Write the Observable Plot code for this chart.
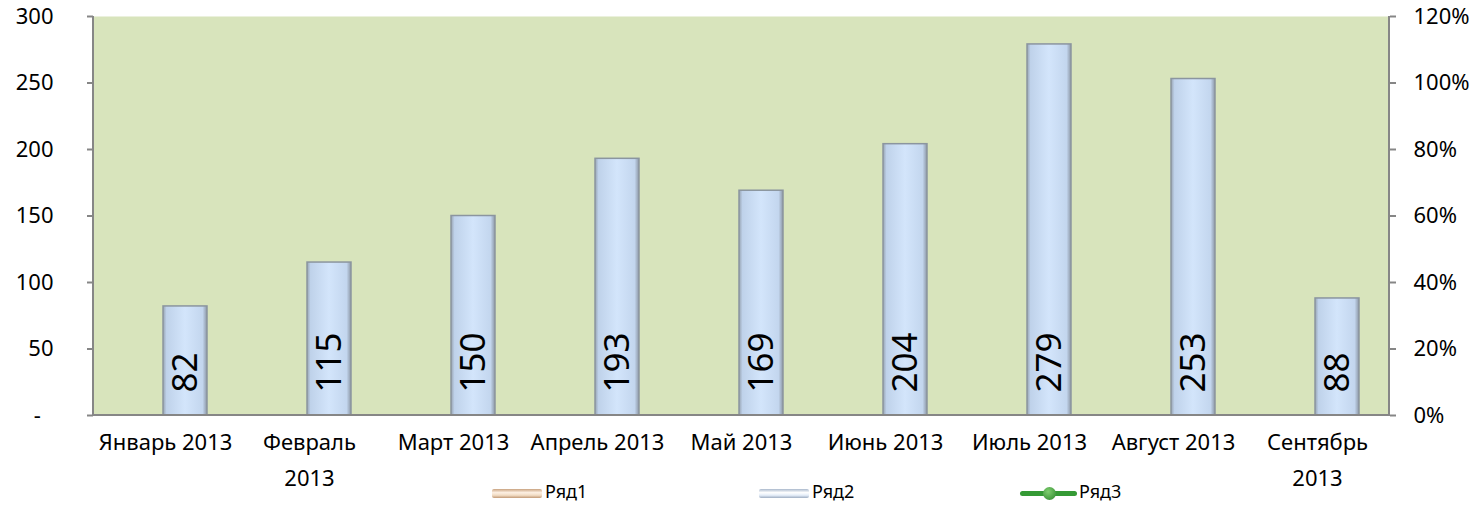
<!DOCTYPE html>
<html><head><meta charset="utf-8">
<script src="https://cdn.jsdelivr.net/npm/d3@7"></script>
<script src="https://cdn.jsdelivr.net/npm/@observablehq/plot@0.6"></script>
<style>
body{margin:0;background:#fff;font-family:"Noto Sans",sans-serif;}
#chart svg{overflow:visible;}
#legend{position:relative;height:34px;width:1480px;font-size:18px;color:#000;}
#legend .ic{position:absolute;}
#legend .tx{position:absolute;top:3px;line-height:20px;}
</style></head><body><div id="chart"></div><div id="legend"></div>
<script>
const months = ["Январь 2013","Февраль\n2013","Март 2013","Апрель 2013","Май 2013","Июнь 2013","Июль 2013","Август 2013","Сентябрь\n2013"];
const ryad2 = [82,115,150,193,169,204,279,253,88];
const leftTicks = [0,50,100,150,200,250,300];
const leftTickLabels = ["-\u2007","50","100","150","200","250","300"];
const rightTickLabels = ["0%","20%","40%","60%","80%","100%","120%"];
const seriesNames = ["Ряд1","Ряд2","Ряд3"];

const data = months.map((m,i)=>({month:m, value:ryad2[i]}));

const defs = () => {
  const d = d3.create("svg:defs");
  const g = d.append("linearGradient").attr("id","barGrad").attr("x1","0").attr("x2","1").attr("y1","0").attr("y2","0");
  [["0%","#97a3b2"],["8%","#bfd2ea"],["50%","#d3e5fb"],["90%","#c3d6ee"],["100%","#8c97a5"]]
    .forEach(([o,c])=>g.append("stop").attr("offset",o).attr("stop-color",c));
  return d.node();
};

const axisLines = (index, {y}, values, dims) => {
  const g = d3.create("svg:g");
  const y0 = y(0), y1 = y(300);
  const l = dims.marginLeft, r = dims.width - dims.marginRight;
  g.append("path").attr("d", `M${l},${y1}V${y0}H${r}V${y1}`)
    .attr("fill","none").attr("stroke","#868686").attr("stroke-width",2);
  return g.node();
};

const chart = Plot.plot({
  width:1480, height:478,
  marginLeft:93, marginRight:91, marginTop:16, marginBottom:63,
  style:{fontFamily:'"Noto Sans",sans-serif', background:"transparent", color:"#000", overflow:"visible"},
  x:{domain:months, padding:0, axis:null, label:null},
  y:{domain:[0,300], axis:null, label:null},
  marks:[
    defs,
    Plot.frame({fill:"#d8e4bc", stroke:null}),
    Plot.barY(data,{x:"month", y:"value", fill:"url(#barGrad)", stroke:"#8b959f", strokeWidth:1.5, insetLeft:70, insetRight:30}),
    Plot.text(data,{x:"month", y:()=>0, text:d=>String(d.value), rotate:-90, textAnchor:"start", dx:20, dy:-23, fontSize:35, fill:"#000"}),
    axisLines,
    Plot.axisY({anchor:"left", label:null, ticks:leftTicks, tickFormat:d=>leftTickLabels[leftTicks.indexOf(d)], tickSize:6, tickPadding:34, fontSize:22, stroke:"#868686", fill:"#000", strokeWidth:2}),
    Plot.axisY({anchor:"right", label:null, ticks:leftTicks, tickFormat:d=>rightTickLabels[leftTicks.indexOf(d)], tickSize:6, tickPadding:18, fontSize:22, stroke:"#868686", fill:"#000", strokeWidth:2}),
    Plot.axisX({label:null, tickSize:0, tickPadding:10, fontSize:22, lineHeight:1.6, fill:"#000"})
  ]
});
document.getElementById("chart").append(chart);

const legend = document.getElementById("legend");
const items = [
  {name:seriesNames[0], icon:`<div class="ic" style="left:492px;top:11px;width:50px;height:9px;border-radius:2px;background:linear-gradient(#c9a27f,#fdf0e2 40%,#f1dcc4 70%,#c29a76)"></div>`, tx:545},
  {name:seriesNames[1], icon:`<div class="ic" style="left:759px;top:11px;width:50px;height:9px;border-radius:2px;background:linear-gradient(#a9b8cc,#ffffff 40%,#e4edf8 70%,#9eadc2)"></div>`, tx:812},
  {name:seriesNames[2], icon:`<div class="ic" style="left:1020px;top:13px;width:57px;height:5px;border-radius:3px;background:#359a35"></div><div class="ic" style="left:1043px;top:9px;width:13px;height:13px;border-radius:50%;background:radial-gradient(circle at 40% 35%,#7fcf6f,#2a842a)"></div>`, tx:1079}
];
legend.innerHTML = items.map(it=>it.icon+`<div class="tx" style="left:${it.tx}px">${it.name}</div>`).join("");
</script></body></html>
